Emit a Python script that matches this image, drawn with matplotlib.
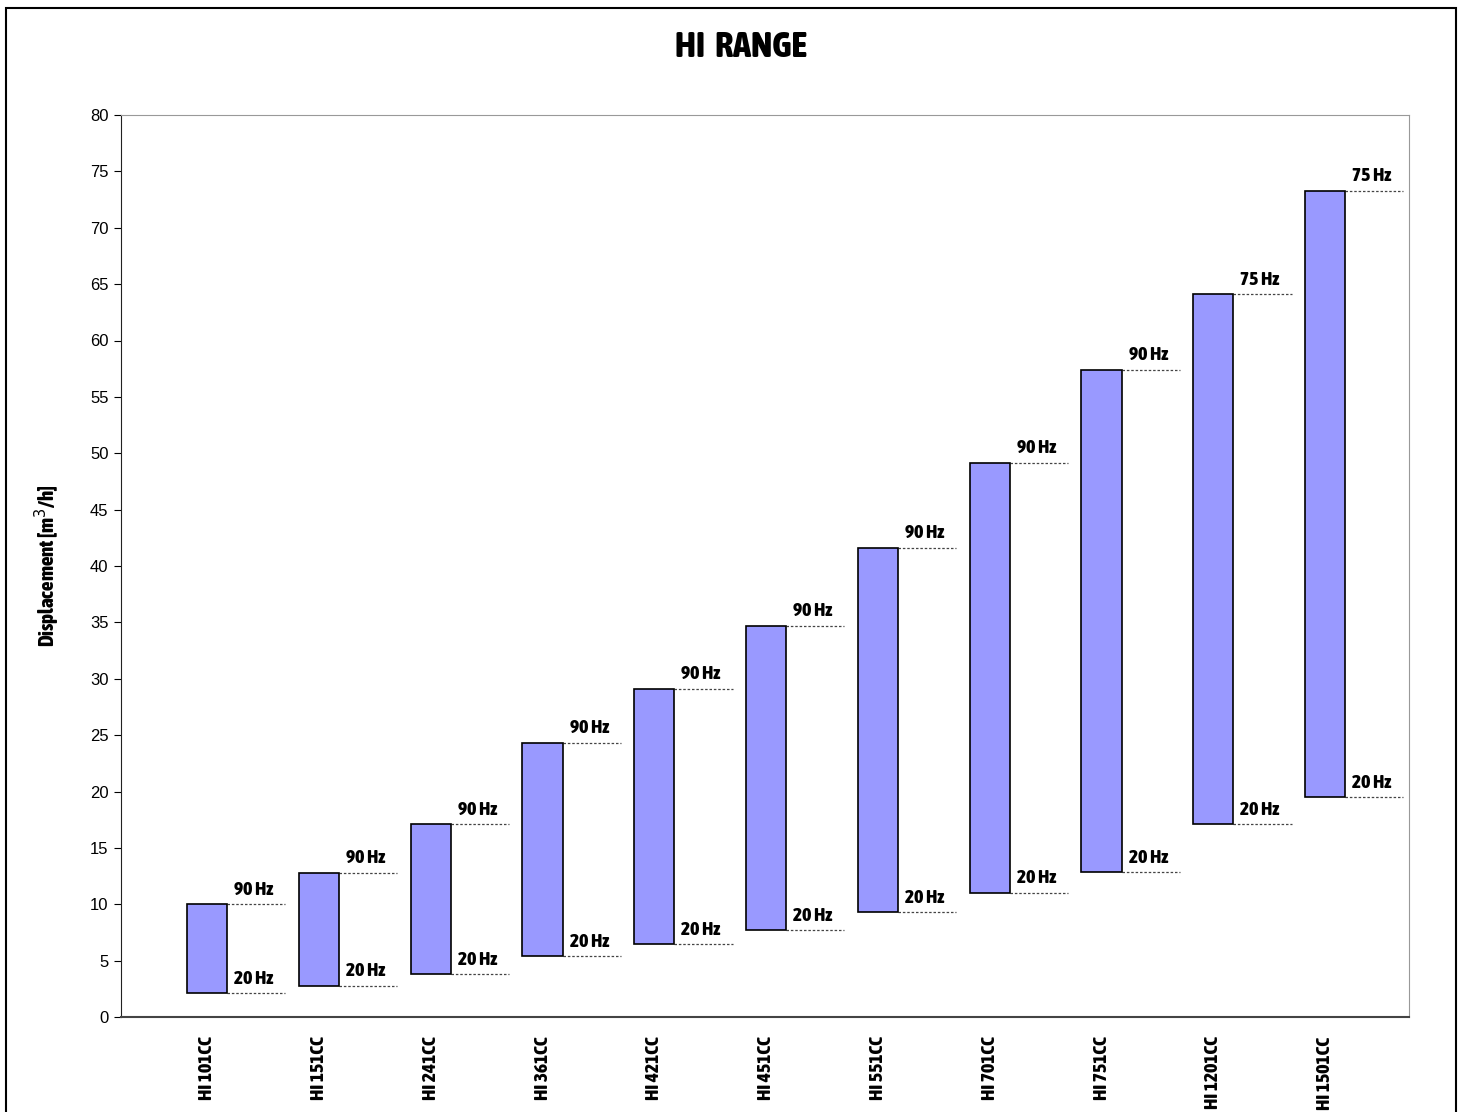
import matplotlib.pyplot as plt
from matplotlib import font_manager as fm
from matplotlib.patches import Rectangle

models = ["HI 101CC", "HI 151CC", "HI 241CC", "HI 361CC", "HI 421CC", "HI 451CC",
          "HI 551CC", "HI 701CC", "HI 751CC", "HI 1201CC", "HI 1501CC"]
low_vals = [2.1, 2.75, 3.8, 5.4, 6.45, 7.7, 9.3, 11.0, 12.85, 17.1, 19.5]
high_vals = [10.0, 12.8, 17.1, 24.3, 29.1, 34.7, 41.6, 49.15, 57.4, 64.1, 73.3]
low_labels = ["20 Hz"] * 11
high_labels = ["90 Hz"] * 9 + ["75 Hz", "75 Hz"]


def pick_condensed_bold():
    # look for any narrow / condensed bold face on the system
    best = None
    for f in fm.fontManager.ttflist:
        name = (f.name + " " + f.fname).lower()
        narrow = ("narrow" in name or "condensed" in name or
                  f.stretch in ("condensed", "semi-condensed", "extra-condensed"))
        bold = f.weight in ("bold", 700, "heavy", 800, "semibold", 600) or "bold" in f.fname.lower()
        if narrow and bold and "italic" not in f.fname.lower() and "oblique" not in f.fname.lower():
            score = 0
            if "extra" in f.fname.lower() or "extracondensed" in f.fname.lower():
                score += 2
            if "roboto" in name or "liberation" in name or "open" in name:
                score += 1
            if best is None or score > best[0]:
                best = (score, f.fname)
    return best[1] if best else None


cfile = pick_condensed_bold()
if cfile:
    def cprop(size):
        return fm.FontProperties(fname=cfile, size=size)
else:
    def cprop(size):
        return fm.FontProperties(family="DejaVu Sans", weight="bold", stretch="condensed", size=size * 0.85)

plain = ["Liberation Sans", "DejaVu Sans"]

fig = plt.figure(figsize=(14.63, 11.12), dpi=100)
ax = fig.add_axes([121 / 1463, 1 - 1017 / 1112, 1288 / 1463, 902 / 1112])

x = list(range(len(models)))
heights = [h - l for h, l in zip(high_vals, low_vals)]
bw = 0.36
ax.bar(x, heights, bottom=low_vals, width=bw, color="#9999FF",
       edgecolor="black", linewidth=1.2, zorder=3)

# dotted guide lines and frequency labels
for i in x:
    xr = i + bw / 2
    for val, lab in ((high_vals[i], high_labels[i]), (low_vals[i], low_labels[i])):
        ax.plot([xr, xr + 0.52], [val, val], color="#444444", linestyle=(0, (2, 1.5)),
                linewidth=0.9, zorder=2)
        ax.annotate(lab, (xr, val), xytext=(5, 4), textcoords="offset points",
                    ha="left", va="bottom", fontproperties=cprop(14))

ax.set_xlim(-0.77, 10.75)
ax.set_ylim(0, 80)
ax.set_yticks(range(0, 81, 5))
ax.tick_params(axis="y", direction="out", length=5, labelsize=12, pad=4)
for t in ax.get_yticklabels():
    t.set_family(plain)
ax.set_xticks(x)
ax.set_xticklabels(models, rotation=90)
for t in ax.get_xticklabels():
    t.set_fontproperties(cprop(14))
ax.tick_params(axis="x", length=0, pad=14)

for side in ("top", "right"):
    ax.spines[side].set_color("#999999")
ax.spines["left"].set_color("#222222")
ax.spines["bottom"].set_color("#444444")
ax.spines["bottom"].set_linewidth(1.5)

ax.set_ylabel("Displacement [m$^3$/h]", fontproperties=cprop(15), labelpad=20)

fig.text(741 / 1463, 1 - 47 / 1112, "HI  RANGE", ha="center", va="center",
         fontproperties=cprop(26))

# outer frame
fig.add_artist(Rectangle((6 / 1463, -0.05), (1456 - 6) / 1463, 1.05 - 8 / 1112,
                         transform=fig.transFigure, fill=False, edgecolor="black",
                         linewidth=1.5, clip_on=False))

fig.savefig("out.png", dpi=100)
